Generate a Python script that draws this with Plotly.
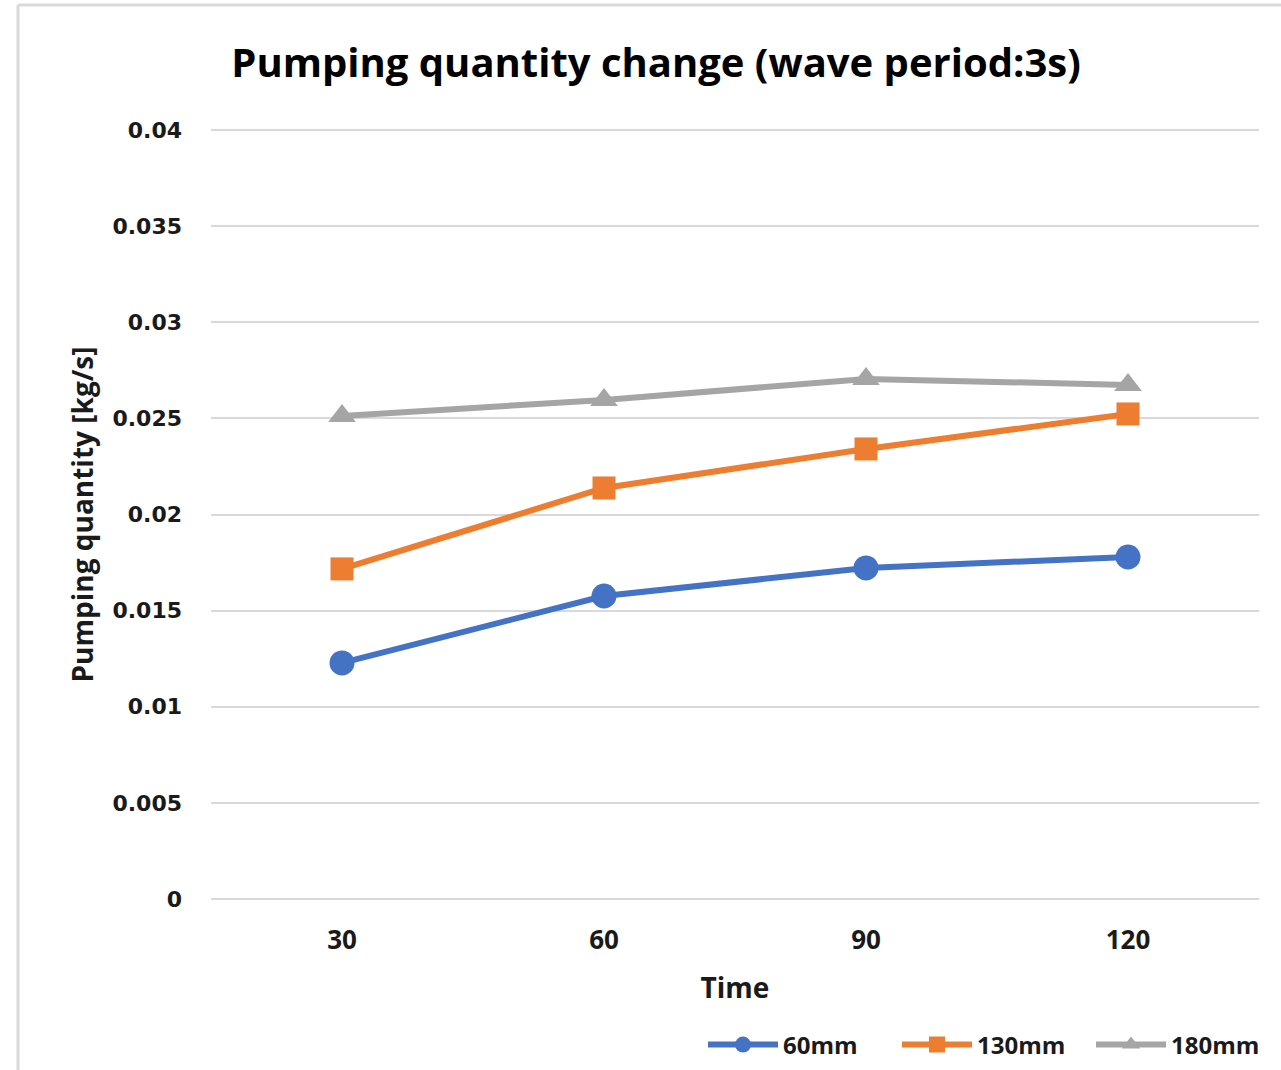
import plotly.graph_objects as go

# Sampling times and pumping quantity for each depth
times = ["30", "60", "90", "120"]
q_60mm = [0.01228, 0.01576, 0.01722, 0.01779]
q_130mm = [0.01717, 0.02138, 0.02341, 0.02523]
q_180mm = [0.02512, 0.02596, 0.02705, 0.02674]

y_ticks = [0, 0.005, 0.01, 0.015, 0.02, 0.025, 0.03, 0.035, 0.04]
y_tick_text = ["0", "0.005", "0.01", "0.015", "0.02", "0.025", "0.03", "0.035", "0.04"]

series = [
    ("60mm", q_60mm, "#4472C4", "circle", 25),
    ("130mm", q_130mm, "#ED7D31", "square", 23),
    ("180mm", q_180mm, "#A5A5A5", "triangle-up", 24),
]

title_font = "Open Sans, Liberation Sans, sans-serif"
tick_font = "DejaVu Sans, Verdana, sans-serif"
grid_color = "#D9D9D9"

fig = go.Figure()
for name, vals, color, symbol, size in series:
    fig.add_trace(go.Scatter(
        x=times, y=vals, name=name, mode="lines+markers",
        line=dict(color=color, width=6),
        marker=dict(symbol=symbol, size=size, color=color, line=dict(width=0)),
    ))

L, R, T, B = 211, 22, 129, 170
W, H = 1281, 1070
pw, ph = W - L - R, H - T - B
pad = 0.04 / 769  # one pixel of value around the range

def px_x(p):
    return (p - L) / pw

def px_y(p):
    return (H - B - p) / ph

fig.update_layout(
    width=W, height=H,
    margin=dict(l=L, r=R, t=T, b=B, pad=0, autoexpand=False),
    paper_bgcolor="white", plot_bgcolor="white",
    font=dict(family=title_font, color="#000000"),
    title=dict(
        text="<b>Pumping quantity change (wave period:3s)</b>",
        x=px_x(656), xref="paper", xanchor="center",
        y=1 - 63 / H, yref="container", yanchor="middle",
        font=dict(size=40, family=title_font, color="#000000"),
    ),
    xaxis=dict(
        type="category", range=[-0.5, 3.5],
        showgrid=False, zeroline=False, showline=False,
        ticks="", ticklabelstandoff=22, automargin=False,
        tickfont=dict(size=26, family=title_font, color="#1a1a1a", weight="bold"),
        title=dict(text="<b>Time</b>", font=dict(size=28, family=title_font, color="#1a1a1a"), standoff=22),
    ),
    yaxis=dict(
        range=[-pad, 0.04 + pad], tickvals=y_ticks, ticktext=y_tick_text,
        showgrid=True, gridcolor=grid_color, gridwidth=2,
        zeroline=False, showline=False, ticks="", automargin=False,
        ticklabelstandoff=28,
        tickfont=dict(size=22, family=tick_font, color="#1a1a1a", weight="bold"),
        title=dict(text="<b>Pumping quantity [kg/s]</b>", font=dict(size=28, family=title_font, color="#1a1a1a"), standoff=10),
    ),
    legend=dict(
        orientation="h", x=px_x(703), xanchor="left",
        y=px_y(1045), yanchor="middle",
        itemwidth=70, entrywidth=109, entrywidthmode="pixels",
        font=dict(size=24, family=title_font, color="#1a1a1a", weight="bold"),
        bgcolor="rgba(0,0,0,0)", traceorder="normal", tracegroupgap=0,
    ),
    showlegend=True,
)

# Gridlines at the two ends of the value range
for yv in (y_ticks[0], y_ticks[-1]):
    fig.add_shape(type="line", xref="paper", yref="y", layer="below",
                  x0=0, x1=1, y0=yv, y1=yv,
                  line=dict(color=grid_color, width=2))

# Chart frame along the top and left edges
fig.add_shape(type="line", xref="paper", yref="paper",
              x0=px_x(18), x1=px_x(1290), y0=px_y(5), y1=px_y(5),
              line=dict(color=grid_color, width=3))
fig.add_shape(type="line", xref="paper", yref="paper",
              x0=px_x(18), x1=px_x(18), y0=px_y(5), y1=px_y(1075),
              line=dict(color=grid_color, width=3))

fig.write_html("out.html")
